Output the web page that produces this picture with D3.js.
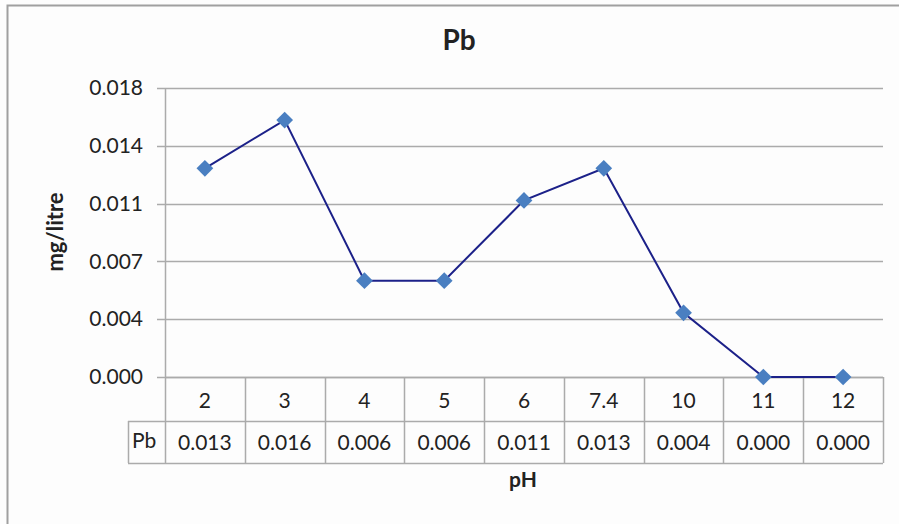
<!DOCTYPE html>
<html>
<head>
<meta charset="utf-8">
<script src="https://cdn.jsdelivr.net/npm/d3@7"></script>
<style>
  body { margin: 0; background: #fff; }
  text { font-family: Lato, "Open Sans", sans-serif; fill: #222; }
</style>
</head>
<body>
<div id="chart"></div>
<script>
// data
var phLabels = ["2", "3", "4", "5", "6", "7.4", "10", "11", "12"]
var pbValues = [0.013, 0.016, 0.006, 0.006, 0.011, 0.013, 0.004, 0.000, 0.000]
var yTicks = [0, 0.0036, 0.0072, 0.0108, 0.0144, 0.018]

var W = 899, H = 524
var plotLeft = 165, plotRight = 883, plotTop = 88, base = 377
var row1 = 421, row2 = 463, hdrLeft = 128

var svg = d3.select("#chart").append("svg")
    .attr("width", W).attr("height", H)

svg.append("rect").attr("width", W).attr("height", H).attr("fill", "#fdfdfd")

// outer chart border (only top & left visible)
svg.append("path")
    .attr("d", "M7.5," + H + "V5.5H" + W)
    .attr("fill", "none").attr("stroke", "#a0a0a0").attr("stroke-width", 2)

var x = d3.scaleBand().domain(phLabels).range([plotLeft, plotRight])
var y = d3.scaleLinear().domain([0, 0.018]).range([base, plotTop])

// gridlines
svg.append("g").selectAll("line")
    .data(yTicks)
    .enter().append("line")
    .attr("x1", plotLeft - 8).attr("x2", plotRight)
    .attr("y1", function(d) { return Math.round(y(d)) + 0.5 })
    .attr("y2", function(d) { return Math.round(y(d)) + 0.5 })
    .attr("stroke", "#ababab").attr("stroke-width", 1.5)

// y axis labels
var lAxis = d3.axisLeft(y).tickValues(yTicks).tickSize(0).tickPadding(22)
    .tickFormat(d3.format(".3f"))
var gy = svg.append("g").attr("transform", "translate(" + plotLeft + ",0)").call(lAxis)
gy.select(".domain").remove()
gy.selectAll("text").style("font-size", "21px").attr("fill", "#333")
    .style("font-family", "Lato, 'Open Sans', sans-serif")

// y axis line (runs through table)
svg.append("line")
    .attr("x1", plotLeft + 0.5).attr("x2", plotLeft + 0.5).attr("y1", plotTop).attr("y2", row2)
    .attr("stroke", "#ababab").attr("stroke-width", 1.5)

// data table grid
var tbl = svg.append("g").attr("stroke", "#ababab").attr("stroke-width", 1.5).attr("fill", "none")
tbl.append("line").attr("x1", plotLeft).attr("x2", plotRight).attr("y1", base + 0.5).attr("y2", base + 0.5)
tbl.append("line").attr("x1", hdrLeft).attr("x2", plotRight).attr("y1", row1 + 0.5).attr("y2", row1 + 0.5)
tbl.append("line").attr("x1", hdrLeft).attr("x2", plotRight).attr("y1", row2 + 0.5).attr("y2", row2 + 0.5)
tbl.append("line").attr("x1", hdrLeft + 0.5).attr("x2", hdrLeft + 0.5).attr("y1", row1).attr("y2", row2)
tbl.selectAll("line.col")
    .data(phLabels)
    .enter().append("line")
    .attr("class", "col")
    .attr("x1", function(d) { return Math.round(x(d) + x.bandwidth()) + 0.5 })
    .attr("x2", function(d) { return Math.round(x(d) + x.bandwidth()) + 0.5 })
    .attr("y1", base).attr("y2", row2)

// category row
svg.append("g").selectAll("text")
    .data(phLabels)
    .enter().append("text")
    .attr("x", function(d) { return x(d) + x.bandwidth() / 2 })
    .attr("y", 408)
    .attr("text-anchor", "middle")
    .style("font-size", "21px").attr("fill", "#333")
    .text(function(d) { return d })

// value row
svg.append("g").selectAll("text")
    .data(pbValues)
    .enter().append("text")
    .attr("x", function(d, i) { return x(phLabels[i]) + x.bandwidth() / 2 })
    .attr("y", 450)
    .attr("text-anchor", "middle")
    .style("font-size", "21px").attr("fill", "#333")
    .text(function(d) { return d3.format(".3f")(d) })

svg.append("text")
    .attr("x", hdrLeft + 4).attr("y", 448)
    .style("font-size", "21px").attr("fill", "#333")
    .text("Pb")

// series line
var line = d3.line()
    .x(function(d, i) { return x(phLabels[i]) + x.bandwidth() / 2 })
    .y(function(d) { return y(d) })
svg.append("path")
    .datum(pbValues)
    .attr("d", line)
    .attr("fill", "none").attr("stroke", "#1c2189").attr("stroke-width", 2)

// diamond markers
var diamond = d3.symbol().type(d3.symbolSquare).size(140)
svg.append("g").selectAll("path")
    .data(pbValues)
    .enter().append("path")
    .attr("d", diamond)
    .attr("transform", function(d, i) {
        return "translate(" + (x(phLabels[i]) + x.bandwidth() / 2) + "," + y(d) + ") rotate(45)"
    })
    .attr("fill", "#4a7fc1")

// titles
svg.append("text")
    .attr("x", 459).attr("y", 50)
    .attr("text-anchor", "middle")
    .style("font-size", "28px").style("font-weight", "bold").attr("fill", "#111")
    .text("Pb")

svg.append("text")
    .attr("transform", "translate(63,232) rotate(-90)")
    .attr("text-anchor", "middle")
    .style("font-size", "22px").style("font-weight", "bold").attr("fill", "#111")
    .text("mg/litre")

svg.append("text")
    .attr("x", 523).attr("y", 487)
    .attr("text-anchor", "middle")
    .style("font-size", "21px").style("font-weight", "bold").attr("fill", "#111")
    .text("pH")
</script>
</body>
</html>
